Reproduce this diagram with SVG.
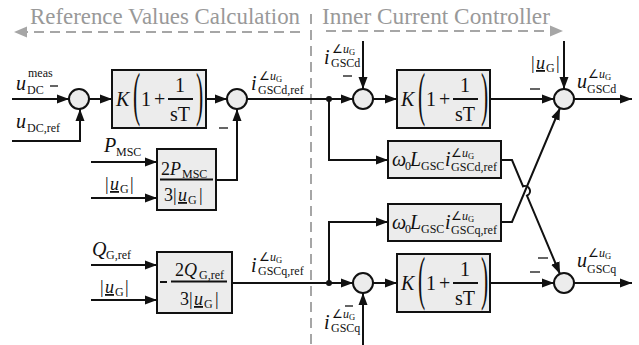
<svg xmlns="http://www.w3.org/2000/svg" width="639" height="345" viewBox="0 0 639 345">
<defs>
<marker id="ar" markerUnits="userSpaceOnUse" markerWidth="13" markerHeight="10" refX="12" refY="5" orient="auto"><path d="M0,0.5 L12,5 L0,9.5 z" fill="#111"/></marker>
<marker id="ag" markerUnits="userSpaceOnUse" markerWidth="14" markerHeight="12" refX="13" refY="6" orient="auto"><path d="M0,0.5 L13,6 L0,11.5 z" fill="#a6a6a6"/></marker>
</defs>
<style>
.blk{fill:#ececec;stroke:#111;stroke-width:2}
.sum{fill:#ececec;stroke:#111;stroke-width:2}
.ln{fill:none;stroke:#111;stroke-width:2}
.arr{fill:none;stroke:#111;stroke-width:2;marker-end:url(#ar)}
.dash{fill:none;stroke:#a6a6a6;stroke-width:2;stroke-dasharray:10,6}
.hdr{font-family:"Liberation Serif","Times New Roman",serif;font-size:23px;fill:#999}
text{font-family:"Liberation Serif","Times New Roman",serif;fill:#111}
.m{font-size:20px}
.b{font-size:18px}
.i{font-style:italic}
.s{font-size:12px}
.ss{font-size:8.5px}
.par{font-size:60px}
.mn{stroke:#111;stroke-width:1.3}
</style>

<g id="headers">
<text class="hdr" x="30" y="24" textLength="270" lengthAdjust="spacingAndGlyphs">Reference Values Calculation</text>
<text class="hdr" x="322" y="24" textLength="228" lengthAdjust="spacingAndGlyphs">Inner Current Controller</text>
<line class="dash" x1="300" y1="32" x2="14" y2="32" style="marker-end:url(#ag)"/>
<line class="dash" x1="326" y1="31" x2="563" y2="31" style="marker-end:url(#ag)"/>
<line class="dash" x1="311" y1="14" x2="311" y2="345" stroke-dasharray="9,6"/>
</g>

<g id="connectors">
<line class="arr" x1="12" y1="99" x2="69" y2="99"/>
<polyline class="arr" points="12,141 80,141 80,109"/>
<line class="arr" x1="89" y1="99" x2="112" y2="99"/>
<line class="arr" x1="206" y1="99" x2="227" y2="99"/>
<polyline class="arr" points="216,180 237,180 237,109"/>
<line class="arr" x1="91" y1="162" x2="157" y2="162"/>
<line class="arr" x1="91" y1="198" x2="157" y2="198"/>
<line class="arr" x1="91" y1="265" x2="157" y2="265"/>
<line class="arr" x1="91" y1="300" x2="157" y2="300"/>
<line class="ln" x1="247" y1="99" x2="329" y2="99"/>
<line class="arr" x1="329" y1="99" x2="353" y2="99"/>
<line class="arr" x1="363" y1="41" x2="363" y2="89"/>
<line class="arr" x1="373" y1="99" x2="397" y2="99"/>
<line class="arr" x1="490" y1="99" x2="554" y2="99"/>
<line class="arr" x1="564" y1="41" x2="564" y2="89"/>
<line class="arr" x1="574" y1="99" x2="632" y2="99"/>
<polyline class="arr" points="329,99 329,160 388,160"/>
<polyline class="arr" points="329,283 329,222 388,222"/>
<line class="ln" x1="232" y1="283" x2="329" y2="283"/>
<line class="arr" x1="329" y1="283" x2="353" y2="283"/>
<line class="arr" x1="363" y1="345" x2="363" y2="293"/>
<line class="arr" x1="373" y1="283" x2="397" y2="283"/>
<line class="arr" x1="490" y1="283" x2="554" y2="283"/>
<line class="arr" x1="574" y1="283" x2="632" y2="283"/>
<path class="arr" d="M501,160 L512,160 L523.06,186.39 A5,5 0 0 1 526.94,195.61 L560,274"/>
<path class="arr" d="M501,222 L512,222 L560,108"/>
<circle cx="329" cy="99" r="3" fill="#111"/>
<circle cx="329" cy="283" r="3" fill="#111"/>
<line class="mn" x1="50" y1="86" x2="58" y2="86"/>
<line class="mn" x1="219" y1="128" x2="228" y2="128"/>
<line class="mn" x1="343" y1="76" x2="352" y2="76"/>
<line class="mn" x1="530" y1="89" x2="540" y2="89"/>
<line class="mn" x1="538" y1="258" x2="548" y2="258"/>
<line class="mn" x1="530" y1="272" x2="540" y2="272"/>
<line class="mn" x1="345" y1="306" x2="353" y2="306"/>
</g>

<g id="sum1"><circle class="sum" cx="79" cy="99" r="10"/></g>
<g id="sum2"><circle class="sum" cx="237" cy="99" r="10"/></g>
<g id="sum3"><circle class="sum" cx="363" cy="99" r="10"/></g>
<g id="sum4"><circle class="sum" cx="564" cy="99" r="10"/></g>
<g id="sum5"><circle class="sum" cx="363" cy="283" r="10"/></g>
<g id="sum6"><circle class="sum" cx="564" cy="283" r="10"/></g>

<g id="pi1">
<rect class="blk" x="112" y="70" width="94" height="58"/>
<text class="m i" x="116" y="106">K</text>
<text class="par" x="0" y="114" transform="translate(133,0) scale(0.36,1)">(</text>
<text class="m" x="141" y="106">1</text>
<text class="m" x="154" y="106">+</text>
<text class="m" x="175" y="92">1</text>
<line class="ln" x1="168" y1="99" x2="193" y2="99" stroke-width="1.2"/>
<text class="m" x="170" y="121">sT</text>
<text class="par" x="0" y="114" transform="translate(196,0) scale(0.36,1)">)</text>
</g>

<g id="pi2">
<rect class="blk" x="397" y="70" width="93" height="58"/>
<text class="m i" x="401" y="106">K</text>
<text class="par" x="0" y="114" transform="translate(418,0) scale(0.36,1)">(</text>
<text class="m" x="426" y="106">1</text>
<text class="m" x="439" y="106">+</text>
<text class="m" x="460" y="92">1</text>
<line class="ln" x1="453" y1="99" x2="478" y2="99" stroke-width="1.2"/>
<text class="m" x="455" y="121">sT</text>
<text class="par" x="0" y="114" transform="translate(481,0) scale(0.36,1)">)</text>
</g>

<g id="pi3">
<rect class="blk" x="397" y="254" width="93" height="58"/>
<text class="m i" x="401" y="290">K</text>
<text class="par" x="0" y="298" transform="translate(418,0) scale(0.36,1)">(</text>
<text class="m" x="426" y="290">1</text>
<text class="m" x="439" y="290">+</text>
<text class="m" x="460" y="276">1</text>
<line class="ln" x1="453" y1="283" x2="478" y2="283" stroke-width="1.2"/>
<text class="m" x="455" y="305">sT</text>
<text class="par" x="0" y="298" transform="translate(481,0) scale(0.36,1)">)</text>
</g>

<g id="pblock">
<rect class="blk" x="157" y="149" width="59" height="61"/>
<text class="b" x="161" y="175">2<tspan class="i">P</tspan></text>
<text class="s" x="182" y="178">MSC</text>
<line class="ln" x1="160" y1="179.5" x2="213" y2="179.5" stroke-width="1.2"/>
<text class="b" x="164" y="201">3</text>
<text class="b" x="173" y="201">|</text>
<text class="b i" x="178" y="201" text-decoration="underline">u</text>
<text class="s" x="188" y="204">G</text>
<text class="b" x="199" y="201">|</text>
</g>

<g id="qblock">
<rect class="blk" x="157" y="252" width="75" height="61"/>
<line class="ln" x1="160" y1="282" x2="167" y2="282" stroke-width="1.2"/>
<text class="b" x="175" y="276">2<tspan class="i">Q</tspan></text>
<text class="s" x="199" y="279">G,ref</text>
<line class="ln" x1="171" y1="281.5" x2="227" y2="281.5" stroke-width="1.2"/>
<text class="b" x="180" y="305">3</text>
<text class="b" x="189" y="305">|</text>
<text class="b i" x="194" y="305" text-decoration="underline">u</text>
<text class="s" x="204" y="308">G</text>
<text class="b" x="215" y="305">|</text>
</g>

<g id="wd">
<rect class="blk" x="388" y="141" width="113" height="37"/>
<text class="m i" x="392" y="166">ω</text>
<text class="s" x="405" y="170">0</text>
<text class="m i" x="410" y="166">L</text>
<text class="s" x="421" y="170">GSC</text>
<text class="m i" x="445" y="166">i</text>
<text class="s" x="451" y="157">∠<tspan class="i">u</tspan><tspan class="ss" dy="2">G</tspan></text>
<text class="s" x="451" y="171" textLength="46" lengthAdjust="spacingAndGlyphs">GSCd,ref</text>
</g>

<g id="wq">
<rect class="blk" x="388" y="204" width="113" height="37"/>
<text class="m i" x="392" y="229">ω</text>
<text class="s" x="405" y="233">0</text>
<text class="m i" x="410" y="229">L</text>
<text class="s" x="421" y="233">GSC</text>
<text class="m i" x="445" y="229">i</text>
<text class="s" x="451" y="220">∠<tspan class="i">u</tspan><tspan class="ss" dy="2">G</tspan></text>
<text class="s" x="451" y="234" textLength="46" lengthAdjust="spacingAndGlyphs">GSCq,ref</text>
</g>

<g id="labels">
<text class="m i" x="16" y="90">u</text>
<text class="s" x="27" y="94">DC</text>
<text class="s" x="28" y="77">meas</text>

<text class="m i" x="16" y="128">u</text>
<text class="s" x="27" y="132">DC,ref</text>

<text class="m i" x="104" y="152">P</text>
<text class="s" x="116" y="156">MSC</text>

<text class="b" x="105" y="190">|</text>
<text class="b i" x="110" y="190" text-decoration="underline">u</text>
<text class="s" x="120" y="193">G</text>
<text class="b" x="130" y="190">|</text>

<text class="m i" x="92" y="256">Q</text>
<text class="s" x="106" y="259">G,ref</text>

<text class="b" x="100" y="293">|</text>
<text class="b i" x="105" y="293" text-decoration="underline">u</text>
<text class="s" x="115" y="296">G</text>
<text class="b" x="125" y="293">|</text>

<text class="m i" x="251" y="90">i</text>
<text class="s" x="259" y="80">∠<tspan class="i">u</tspan><tspan class="ss" dy="2">G</tspan></text>
<text class="s" x="258" y="94">GSCd,ref</text>

<text class="m i" x="251" y="272">i</text>
<text class="s" x="259" y="261">∠<tspan class="i">u</tspan><tspan class="ss" dy="2">G</tspan></text>
<text class="s" x="258" y="275">GSCq,ref</text>

<text class="m i" x="324" y="64">i</text>
<text class="s" x="332" y="53">∠<tspan class="i">u</tspan><tspan class="ss" dy="2">G</tspan></text>
<text class="s" x="331" y="67">GSCd</text>

<text class="m i" x="324" y="329">i</text>
<text class="s" x="332" y="318">∠<tspan class="i">u</tspan><tspan class="ss" dy="2">G</tspan></text>
<text class="s" x="331" y="332">GSCq</text>

<text class="b" x="531" y="69">|</text>
<text class="b i" x="536" y="69" text-decoration="underline">u</text>
<text class="s" x="546" y="72">G</text>
<text class="b" x="556" y="69">|</text>

<text class="m i" x="577" y="88">u</text>
<text class="s" x="588" y="78">∠<tspan class="i">u</tspan><tspan class="ss" dy="2">G</tspan></text>
<text class="s" x="587" y="93">GSCd</text>

<text class="m i" x="577" y="267">u</text>
<text class="s" x="588" y="257">∠<tspan class="i">u</tspan><tspan class="ss" dy="2">G</tspan></text>
<text class="s" x="587" y="273">GSCq</text>
</g>
</svg>
